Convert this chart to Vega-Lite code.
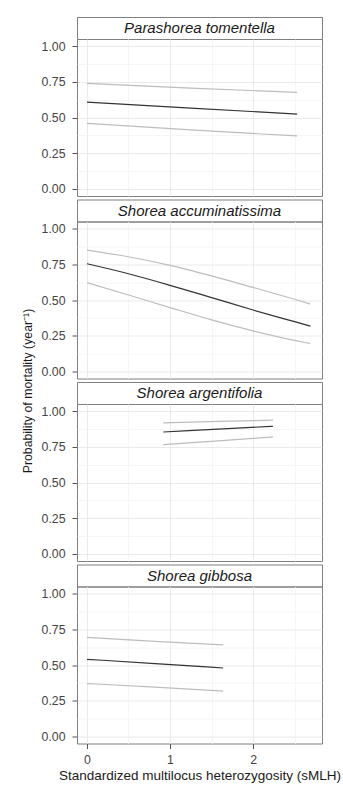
{
  "$schema": "https://vega.github.io/schema/vega-lite/v6.json",
  "background": "white",
  "padding": {"left": 21, "top": 16, "right": 0, "bottom": 0},
  "spacing": 5,
  "config": {
    "font": "Liberation Sans",
    "view": {"stroke": "#7f7f7f", "strokeWidth": 1},
    "axis": {
      "labelFont": "Liberation Sans", "labelFontSize": 12.3, "labelColor": "#444444",
      "titleFont": "Liberation Sans", "titleFontSize": 13.5, "titleFontWeight": "normal", "titleColor": "#1a1a1a",
      "tickColor": "#555555", "domain": false, "gridWidth": 0.8
    }
  },
  "datasets": {
    "titles": [{"label": "Probability of mortality (year⁻¹)"}],
    "strips": [
      {"species": "Parashorea tomentella"},
      {"species": "Shorea accuminatissima"},
      {"species": "Shorea argentifolia"},
      {"species": "Shorea gibbosa"}
    ],
    "curves": [
      {"species": "Parashorea tomentella", "band": "fit", "x": 0, "y": 0.608},
      {"species": "Parashorea tomentella", "band": "fit", "x": 1.25, "y": 0.566},
      {"species": "Parashorea tomentella", "band": "fit", "x": 2.53, "y": 0.524},
      {"species": "Parashorea tomentella", "band": "upper", "x": 0, "y": 0.739},
      {"species": "Parashorea tomentella", "band": "upper", "x": 1.25, "y": 0.706},
      {"species": "Parashorea tomentella", "band": "upper", "x": 2.53, "y": 0.676},
      {"species": "Parashorea tomentella", "band": "lower", "x": 0, "y": 0.459},
      {"species": "Parashorea tomentella", "band": "lower", "x": 1.25, "y": 0.413},
      {"species": "Parashorea tomentella", "band": "lower", "x": 2.53, "y": 0.371},

      {"species": "Shorea accuminatissima", "band": "fit", "x": 0, "y": 0.754},
      {"species": "Shorea accuminatissima", "band": "fit", "x": 0.5, "y": 0.684},
      {"species": "Shorea accuminatissima", "band": "fit", "x": 1, "y": 0.603},
      {"species": "Shorea accuminatissima", "band": "fit", "x": 1.5, "y": 0.517},
      {"species": "Shorea accuminatissima", "band": "fit", "x": 2, "y": 0.43},
      {"species": "Shorea accuminatissima", "band": "fit", "x": 2.5, "y": 0.348},
      {"species": "Shorea accuminatissima", "band": "fit", "x": 2.69, "y": 0.317},
      {"species": "Shorea accuminatissima", "band": "upper", "x": 0, "y": 0.85},
      {"species": "Shorea accuminatissima", "band": "upper", "x": 0.5, "y": 0.803},
      {"species": "Shorea accuminatissima", "band": "upper", "x": 1, "y": 0.743},
      {"species": "Shorea accuminatissima", "band": "upper", "x": 1.5, "y": 0.669},
      {"species": "Shorea accuminatissima", "band": "upper", "x": 2, "y": 0.588},
      {"species": "Shorea accuminatissima", "band": "upper", "x": 2.5, "y": 0.505},
      {"species": "Shorea accuminatissima", "band": "upper", "x": 2.69, "y": 0.472},
      {"species": "Shorea accuminatissima", "band": "lower", "x": 0, "y": 0.622},
      {"species": "Shorea accuminatissima", "band": "lower", "x": 0.5, "y": 0.535},
      {"species": "Shorea accuminatissima", "band": "lower", "x": 1, "y": 0.447},
      {"species": "Shorea accuminatissima", "band": "lower", "x": 1.5, "y": 0.361},
      {"species": "Shorea accuminatissima", "band": "lower", "x": 2, "y": 0.284},
      {"species": "Shorea accuminatissima", "band": "lower", "x": 2.5, "y": 0.217},
      {"species": "Shorea accuminatissima", "band": "lower", "x": 2.69, "y": 0.195},

      {"species": "Shorea argentifolia", "band": "fit", "x": 0.92, "y": 0.854},
      {"species": "Shorea argentifolia", "band": "fit", "x": 1.58, "y": 0.874},
      {"species": "Shorea argentifolia", "band": "fit", "x": 2.24, "y": 0.894},
      {"species": "Shorea argentifolia", "band": "upper", "x": 0.92, "y": 0.918},
      {"species": "Shorea argentifolia", "band": "upper", "x": 1.58, "y": 0.928},
      {"species": "Shorea argentifolia", "band": "upper", "x": 2.24, "y": 0.937},
      {"species": "Shorea argentifolia", "band": "lower", "x": 0.92, "y": 0.765},
      {"species": "Shorea argentifolia", "band": "lower", "x": 1.58, "y": 0.792},
      {"species": "Shorea argentifolia", "band": "lower", "x": 2.24, "y": 0.819},

      {"species": "Shorea gibbosa", "band": "fit", "x": 0, "y": 0.54},
      {"species": "Shorea gibbosa", "band": "fit", "x": 0.82, "y": 0.51},
      {"species": "Shorea gibbosa", "band": "fit", "x": 1.64, "y": 0.479},
      {"species": "Shorea gibbosa", "band": "upper", "x": 0, "y": 0.694},
      {"species": "Shorea gibbosa", "band": "upper", "x": 0.82, "y": 0.665},
      {"species": "Shorea gibbosa", "band": "upper", "x": 1.64, "y": 0.641},
      {"species": "Shorea gibbosa", "band": "lower", "x": 0, "y": 0.37},
      {"species": "Shorea gibbosa", "band": "lower", "x": 0.82, "y": 0.345},
      {"species": "Shorea gibbosa", "band": "lower", "x": 1.64, "y": 0.317}
    ]
  },
  "hconcat": [
    {
      "width": 14, "height": 748,
      "view": {"stroke": null},
      "data": {"name": "titles"},
      "mark": {"type": "text", "angle": 270, "fontSize": 12.3, "color": "#1a1a1a", "align": "center", "baseline": "middle"},
      "encoding": {"text": {"field": "label"}}
    },
    {
      "spacing": 1.5,
      "vconcat": [
        {
          "bounds": "flush", "spacing": 0,
          "vconcat": [
            {"width": 245, "height": 22, "data": {"name": "strips"},
             "view": {"stroke": "#7f7f7f", "strokeWidth": 1, "fill": "white"},
             "transform": [{"filter": "datum.species === 'Parashorea tomentella'"}],
             "mark": {"type": "text", "fontStyle": "italic", "fontSize": 15, "color": "#1a1a1a", "align": "center", "baseline": "middle"},
             "encoding": {"text": {"field": "species"}}},
            {"width": 245, "height": 157, "data": {"name": "curves"},
             "transform": [{"filter": "datum.species === 'Parashorea tomentella'"}],
             "mark": {"type": "line", "strokeWidth": 1.2, "interpolate": "monotone"},
             "encoding": {
               "x": {"field": "x", "type": "quantitative", "scale": {"domain": [-0.12, 2.83], "nice": false, "zero": false},
                     "axis": {"values": [0, 0.5, 1, 1.5, 2, 2.5], "labels": false, "ticks": false, "title": null,
                              "gridColor": {"condition": {"test": "datum.value % 1 !== 0", "value": "#f4f4f4"}, "value": "#e6e6e6"}}},
               "y": {"field": "y", "type": "quantitative", "scale": {"domain": [-0.05, 1.05], "nice": false, "zero": false},
                     "axis": {"values": [0, 0.125, 0.25, 0.375, 0.5, 0.625, 0.75, 0.875, 1], "title": null,
                              "labelExpr": "(datum.value * 8) % 2 === 0 ? format(datum.value, '.2f') : ''",
                              "tickSize": 5, "labelPadding": 7,
                              "tickOpacity": {"condition": {"test": "(datum.value * 8) % 2 !== 0", "value": 0}, "value": 1},
                              "gridColor": {"condition": {"test": "(datum.value * 8) % 2 !== 0", "value": "#f4f4f4"}, "value": "#e6e6e6"}}},
               "color": {"field": "band", "type": "nominal", "scale": {"domain": ["lower", "fit", "upper"], "range": ["#bdbdbd", "#333333", "#bdbdbd"]}, "legend": null}
             }}
          ]
        },
        {
          "bounds": "flush", "spacing": 0,
          "vconcat": [
            {"width": 245, "height": 22, "data": {"name": "strips"},
             "view": {"stroke": "#7f7f7f", "strokeWidth": 1, "fill": "white"},
             "transform": [{"filter": "datum.species === 'Shorea accuminatissima'"}],
             "mark": {"type": "text", "fontStyle": "italic", "fontSize": 15, "color": "#1a1a1a", "align": "center", "baseline": "middle"},
             "encoding": {"text": {"field": "species"}}},
            {"width": 245, "height": 157, "data": {"name": "curves"},
             "transform": [{"filter": "datum.species === 'Shorea accuminatissima'"}],
             "mark": {"type": "line", "strokeWidth": 1.2, "interpolate": "monotone"},
             "encoding": {
               "x": {"field": "x", "type": "quantitative", "scale": {"domain": [-0.12, 2.83], "nice": false, "zero": false},
                     "axis": {"values": [0, 0.5, 1, 1.5, 2, 2.5], "labels": false, "ticks": false, "title": null,
                              "gridColor": {"condition": {"test": "datum.value % 1 !== 0", "value": "#f4f4f4"}, "value": "#e6e6e6"}}},
               "y": {"field": "y", "type": "quantitative", "scale": {"domain": [-0.05, 1.05], "nice": false, "zero": false},
                     "axis": {"values": [0, 0.125, 0.25, 0.375, 0.5, 0.625, 0.75, 0.875, 1], "title": null,
                              "labelExpr": "(datum.value * 8) % 2 === 0 ? format(datum.value, '.2f') : ''",
                              "tickSize": 5, "labelPadding": 7,
                              "tickOpacity": {"condition": {"test": "(datum.value * 8) % 2 !== 0", "value": 0}, "value": 1},
                              "gridColor": {"condition": {"test": "(datum.value * 8) % 2 !== 0", "value": "#f4f4f4"}, "value": "#e6e6e6"}}},
               "color": {"field": "band", "type": "nominal", "scale": {"domain": ["lower", "fit", "upper"], "range": ["#bdbdbd", "#333333", "#bdbdbd"]}, "legend": null}
             }}
          ]
        },
        {
          "bounds": "flush", "spacing": 0,
          "vconcat": [
            {"width": 245, "height": 22, "data": {"name": "strips"},
             "view": {"stroke": "#7f7f7f", "strokeWidth": 1, "fill": "white"},
             "transform": [{"filter": "datum.species === 'Shorea argentifolia'"}],
             "mark": {"type": "text", "fontStyle": "italic", "fontSize": 15, "color": "#1a1a1a", "align": "center", "baseline": "middle"},
             "encoding": {"text": {"field": "species"}}},
            {"width": 245, "height": 157, "data": {"name": "curves"},
             "transform": [{"filter": "datum.species === 'Shorea argentifolia'"}],
             "mark": {"type": "line", "strokeWidth": 1.2, "interpolate": "monotone"},
             "encoding": {
               "x": {"field": "x", "type": "quantitative", "scale": {"domain": [-0.12, 2.83], "nice": false, "zero": false},
                     "axis": {"values": [0, 0.5, 1, 1.5, 2, 2.5], "labels": false, "ticks": false, "title": null,
                              "gridColor": {"condition": {"test": "datum.value % 1 !== 0", "value": "#f4f4f4"}, "value": "#e6e6e6"}}},
               "y": {"field": "y", "type": "quantitative", "scale": {"domain": [-0.05, 1.05], "nice": false, "zero": false},
                     "axis": {"values": [0, 0.125, 0.25, 0.375, 0.5, 0.625, 0.75, 0.875, 1], "title": null,
                              "labelExpr": "(datum.value * 8) % 2 === 0 ? format(datum.value, '.2f') : ''",
                              "tickSize": 5, "labelPadding": 7,
                              "tickOpacity": {"condition": {"test": "(datum.value * 8) % 2 !== 0", "value": 0}, "value": 1},
                              "gridColor": {"condition": {"test": "(datum.value * 8) % 2 !== 0", "value": "#f4f4f4"}, "value": "#e6e6e6"}}},
               "color": {"field": "band", "type": "nominal", "scale": {"domain": ["lower", "fit", "upper"], "range": ["#bdbdbd", "#333333", "#bdbdbd"]}, "legend": null}
             }}
          ]
        },
        {
          "bounds": "flush", "spacing": 0,
          "vconcat": [
            {"width": 245, "height": 22, "data": {"name": "strips"},
             "view": {"stroke": "#7f7f7f", "strokeWidth": 1, "fill": "white"},
             "transform": [{"filter": "datum.species === 'Shorea gibbosa'"}],
             "mark": {"type": "text", "fontStyle": "italic", "fontSize": 15, "color": "#1a1a1a", "align": "center", "baseline": "middle"},
             "encoding": {"text": {"field": "species"}}},
            {"width": 245, "height": 157, "data": {"name": "curves"},
             "transform": [{"filter": "datum.species === 'Shorea gibbosa'"}],
             "mark": {"type": "line", "strokeWidth": 1.2, "interpolate": "monotone"},
             "encoding": {
               "x": {"field": "x", "type": "quantitative", "scale": {"domain": [-0.12, 2.83], "nice": false, "zero": false},
                     "axis": {"values": [0, 0.5, 1, 1.5, 2, 2.5], "title": "Standardized multilocus heterozygosity (sMLH)",
                              "labelExpr": "datum.value % 1 === 0 ? format(datum.value, 'd') : ''",
                              "tickSize": 5, "labelPadding": 5, "titlePadding": 3,
                              "tickOpacity": {"condition": {"test": "datum.value % 1 !== 0", "value": 0}, "value": 1},
                              "gridColor": {"condition": {"test": "datum.value % 1 !== 0", "value": "#f4f4f4"}, "value": "#e6e6e6"}}},
               "y": {"field": "y", "type": "quantitative", "scale": {"domain": [-0.05, 1.05], "nice": false, "zero": false},
                     "axis": {"values": [0, 0.125, 0.25, 0.375, 0.5, 0.625, 0.75, 0.875, 1], "title": null,
                              "labelExpr": "(datum.value * 8) % 2 === 0 ? format(datum.value, '.2f') : ''",
                              "tickSize": 5, "labelPadding": 7,
                              "tickOpacity": {"condition": {"test": "(datum.value * 8) % 2 !== 0", "value": 0}, "value": 1},
                              "gridColor": {"condition": {"test": "(datum.value * 8) % 2 !== 0", "value": "#f4f4f4"}, "value": "#e6e6e6"}}},
               "color": {"field": "band", "type": "nominal", "scale": {"domain": ["lower", "fit", "upper"], "range": ["#bdbdbd", "#333333", "#bdbdbd"]}, "legend": null}
             }}
          ]
        }
      ]
    }
  ]
}
